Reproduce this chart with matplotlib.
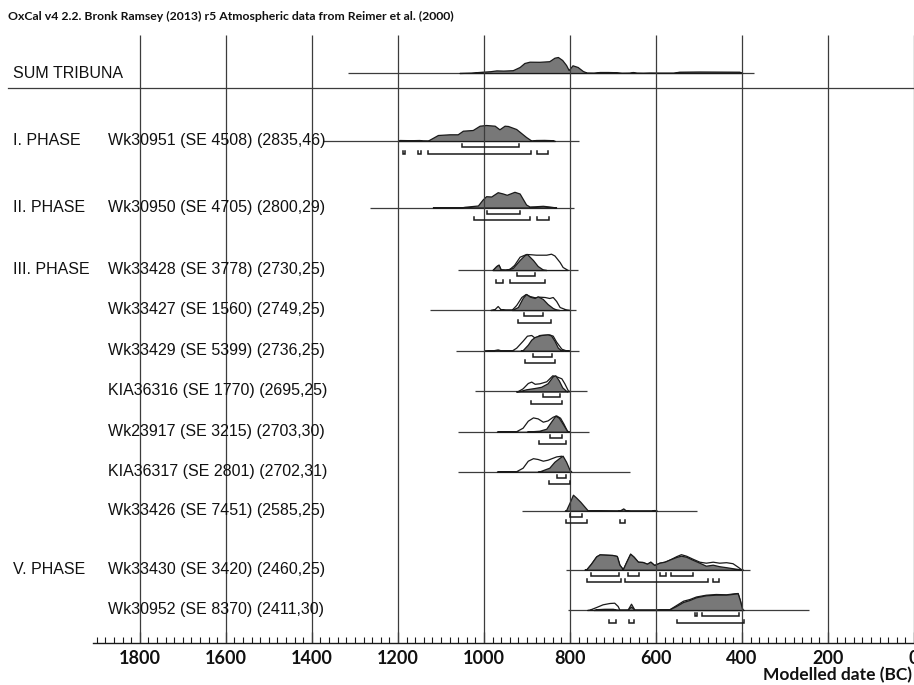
import numpy as np
import matplotlib
matplotlib.use("agg")
import matplotlib.pyplot as plt

# OxCal multiplot, values (years BC, relative probability)

title = "OxCal v4 2.2. Bronk Ramsey (2013) r5 Atmospheric data from Reimer et al. (2000)"
x_label = "Modelled date (BC)"
tick_years = [1800, 1600, 1400, 1200, 1000, 800, 600, 400, 200, 0]

# SUM TRIBUNA
sum_span = (1316, 371)
sum_yr = [1057, 1030, 1018, 1003, 985, 971, 955, 933, 917, 906, 894, 871, 848, 836, 828, 818,
          809, 803, 794, 782, 770, 761, 745, 731, 712, 693, 680, 662, 654, 645, 630, 615, 592,
          560, 546, 500, 450, 406, 399]
sum_p = [0, 0.3, 0.8, 1.3, 1.8, 2.6, 2.4, 2.8, 6, 10, 11.3, 11.2, 11.8, 15.3, 16, 13,
         8, 3, 7.7, 6, 2, 0.4, 0.3, 1, 1, 0.8, 0.2, 0.3, 1.0, 0.3, 0.2, 0.4, 0.3,
         0.3, 1.3, 1.5, 1.4, 1.3, 0]

# I. PHASE  Wk30951
wk30951_span = (1375, 780)
wk30951_yr = [1200, 1196, 1170, 1150, 1143, 1130, 1107, 1080, 1061, 1049, 1026, 1010, 995, 975,
              964, 952, 944, 925, 902, 890, 879, 860, 840, 835]
wk30951_mod = [0, 1, 0.8, 1, 0.6, 0.5, 6, 6.7, 6.7, 10.3, 11, 15.3, 16, 15.3,
               11.7, 15.3, 15, 12, 4, 0.5, 1, 1.1, 0.8, 0]
wk30951_r68 = [(1050, 919)]
wk30951_r95 = [(1188, 1183), (1153, 1146), (1130, 890), (877, 852)]

# II. PHASE  Wk30950
wk30950_span = (1264, 790)
wk30950_yr = [1119, 1100, 1050, 1045, 1014, 1003, 995, 983, 968, 956, 947, 929, 917, 902, 894,
              882, 863, 848, 832]
wk30950_mod = [0, 0.3, 0.3, 0.7, 2, 8, 11.3, 11, 15.3, 14, 12.7, 15.7, 14, 3, 1,
               1.2, 1.7, 1, 0]
wk30950_r68 = [(993, 915)]
wk30950_r95 = [(1024, 892), (877, 848)]

# III. PHASE
wk33428_span = (1061, 782)
wk33428_uyr = [980, 971, 966, 961, 950, 941, 930, 917, 902, 890, 879, 855, 844, 836, 824, 817, 805]
wk33428_unm = [0, 4, 5.3, 0.5, 0.3, 1, 5, 13.3, 16, 15.7, 15.3, 15.3, 16.3, 14.5, 8, 3, 0]
wk33428_myr = [980, 971, 966, 961, 950, 933, 917, 906, 900, 886, 875, 863, 855]
wk33428_mod = [0, 4, 5.3, 0.5, 0.2, 2, 10, 14.7, 16, 10, 4, 0.5, 0]
wk33428_r68 = [(924, 881)]
wk33428_r95 = [(973, 956), (939, 858)]

wk33427_span = (1126, 786)
wk33427_uyr = [985, 975, 968, 962, 950, 935, 925, 913, 903, 894, 882, 871, 859, 848, 840, 832,
               824, 809, 800]
wk33427_unm = [0, 1, 4, 1, 0.5, 0.5, 5, 13, 16, 14, 12.7, 13.3, 13, 12, 13, 9, 3, 0.5, 0]
wk33427_myr = [935, 921, 910, 902, 893, 882, 875, 863, 852, 840, 832, 825]
wk33427_mod = [0, 3, 12, 16, 13.3, 12, 13.7, 11, 6, 2, 0.5, 0]
wk33427_r68 = [(906, 863)]
wk33427_r95 = [(920, 845)]

wk33429_span = (1064, 780)
wk33429_uyr = [1000, 980, 968, 960, 935, 925, 910, 900, 890, 882, 871, 848, 840, 832, 820, 809, 800]
wk33429_unm = [0, 0.3, 1.3, 0.3, 0.3, 3, 10, 15, 15.7, 13, 15.7, 16.3, 15, 9, 2, 0.3, 0]
wk33429_myr = [915, 910, 898, 890, 882, 867, 852, 844, 836, 828, 820, 815]
wk33429_mod = [0, 0.5, 6, 11, 13.7, 15.7, 16.3, 15.3, 10, 3, 0.3, 0]
wk33429_r68 = [(886, 842)]
wk33429_r95 = [(905, 834)]

kia36316_span = (1020, 761)
kia36316_uyr = [925, 921, 910, 898, 890, 882, 871, 855, 841, 832, 820, 813, 805, 800]
kia36316_unm = [0, 0.3, 3, 8.3, 9.7, 7.5, 8, 10, 16, 15, 13, 8, 1, 0]
kia36316_myr = [925, 917, 902, 882, 867, 852, 840, 834, 826, 818, 809, 805]
kia36316_mod = [0, 0.3, 2, 3.3, 4.5, 8, 15, 16, 11, 4, 0.5, 0]
kia36316_r68 = [(863, 824)]
kia36316_r95 = [(890, 818)]

wk23917_span = (1061, 755)
wk23917_uyr = [970, 964, 925, 910, 898, 886, 875, 863, 852, 840, 832, 823, 815, 807, 802]
wk23917_unm = [0, 0.3, 0.5, 4, 11, 14.3, 13.3, 10, 11.3, 15, 16.3, 14, 8, 1, 0]
wk23917_myr = [900, 894, 871, 855, 844, 834, 826, 817, 807, 802]
wk23917_mod = [0, 0.3, 1, 3, 10, 16, 14, 8, 1, 0]
wk23917_r68 = [(846, 818)]
wk23917_r95 = [(873, 809)]

kia36317_span = (1061, 660)
kia36317_uyr = [970, 964, 925, 910, 898, 886, 875, 863, 852, 840, 832, 820, 813, 805, 800, 797]
kia36317_unm = [0, 0.3, 0.5, 4, 11, 13.5, 12.7, 11, 12, 14, 15.3, 16, 11, 3, 0.3, 0]
kia36317_myr = [875, 871, 848, 836, 824, 817, 809, 801, 797]
kia36317_mod = [0, 0.3, 4, 10, 14, 16, 10, 2, 0]
kia36317_r68 = [(831, 809)]
kia36317_r95 = [(848, 799)]

wk33426_span = (911, 505)
wk33426_myr = [812, 809, 801, 793, 786, 776, 766, 759, 750, 690, 683, 676, 670, 660, 610, 604, 598]
wk33426_mod = [0, 0.5, 8, 16, 13.3, 9, 4, 0.5, 0.2, 0, 0.5, 2.3, 0.3, 0, 0, 0.7, 0]
wk33426_r68 = [(799, 773)]
wk33426_r95 = [(809, 760), (683, 671)]

# V. PHASE
wk33430_span = (810, 381)
wk33430_uyr = [766, 762, 751, 739, 731, 716, 701, 691, 685, 677, 669, 660, 652, 642, 631, 621,
               613, 604, 592, 580, 569, 553, 542, 530, 515, 499, 484, 468, 453, 437, 422, 410,
               402, 398]
wk33430_unm = [0, 0.3, 6, 13.3, 15.3, 15, 14.7, 13.7, 5, 0.5, 8, 16, 13, 8, 7.7, 6,
               8, 4.7, 7, 8, 10, 13.5, 15.5, 14, 11, 8, 7, 8, 7, 7.5, 6.5, 3,
               0.5, 0]
wk33430_myr = [766, 762, 751, 739, 731, 716, 701, 691, 685, 677, 669, 660, 652, 642, 631, 621,
               613, 604, 592, 580, 569, 553, 542, 530, 515, 499, 484, 468, 453, 437, 422, 406,
               400]
wk33430_mod = [0, 0.3, 6, 13.3, 15.3, 15, 14.7, 13.7, 5, 0.5, 8, 16, 13, 8, 7.7, 6,
               8, 4.7, 7, 8, 10, 12.7, 14, 13, 10, 7, 4, 5, 3.5, 2.5, 1.5, 0.5,
               0]
wk33430_r68 = [(751, 687), (666, 640), (591, 577), (565, 513)]
wk33430_r95 = [(761, 681), (671, 478), (467, 453)]

wk30952_span = (805, 244)
wk30952_uyr = [760, 755, 739, 724, 708, 697, 689, 685, 666, 658, 650, 600, 592, 569, 553, 537,
               522, 507, 484, 461, 437, 418, 410, 405, 399, 396]
wk30952_unm = [0, 0.3, 3, 5.7, 7, 7.3, 4, 0.3, 0.3, 6.3, 0.3, 0.3, 0.7, 0.7, 5, 9.3,
               11, 13.5, 15.3, 16, 15.7, 16.7, 17, 10, 0.5, 0]
wk30952_myr = [745, 739, 720, 700, 693, 685, 666, 658, 650, 600, 592, 569, 553, 537, 522, 507,
               484, 461, 437, 418, 410, 405, 399]
wk30952_mod = [0, 0.8, 1.2, 1.2, 0.5, 0.2, 0.3, 3.5, 0.3, 0.3, 0.6, 0.6, 4, 8, 10, 12.7,
               14.7, 15.3, 15.3, 16.3, 16.7, 10, 0]
wk30952_r68 = [(509, 505), (493, 406)]
wk30952_r95 = [(710, 693), (662, 650), (552, 395)]

# rows: phase label, sample label, span, unmodelled, modelled, ranges
rows = [
    ("I. PHASE", "Wk30951 (SE 4508) (2835,46)", wk30951_span, None, (wk30951_yr, wk30951_mod), wk30951_r68, wk30951_r95),
    ("II. PHASE", "Wk30950 (SE 4705) (2800,29)", wk30950_span, None, (wk30950_yr, wk30950_mod), wk30950_r68, wk30950_r95),
    ("III. PHASE", "Wk33428 (SE 3778) (2730,25)", wk33428_span, (wk33428_uyr, wk33428_unm), (wk33428_myr, wk33428_mod), wk33428_r68, wk33428_r95),
    ("", "Wk33427 (SE 1560) (2749,25)", wk33427_span, (wk33427_uyr, wk33427_unm), (wk33427_myr, wk33427_mod), wk33427_r68, wk33427_r95),
    ("", "Wk33429 (SE 5399) (2736,25)", wk33429_span, (wk33429_uyr, wk33429_unm), (wk33429_myr, wk33429_mod), wk33429_r68, wk33429_r95),
    ("", "KIA36316 (SE 1770) (2695,25)", kia36316_span, (kia36316_uyr, kia36316_unm), (kia36316_myr, kia36316_mod), kia36316_r68, kia36316_r95),
    ("", "Wk23917 (SE 3215) (2703,30)", wk23917_span, (wk23917_uyr, wk23917_unm), (wk23917_myr, wk23917_mod), wk23917_r68, wk23917_r95),
    ("", "KIA36317 (SE 2801) (2702,31)", kia36317_span, (kia36317_uyr, kia36317_unm), (kia36317_myr, kia36317_mod), kia36317_r68, kia36317_r95),
    ("", "Wk33426 (SE 7451) (2585,25)", wk33426_span, None, (wk33426_myr, wk33426_mod), wk33426_r68, wk33426_r95),
    ("V. PHASE", "Wk33430 (SE 3420) (2460,25)", wk33430_span, (wk33430_uyr, wk33430_unm), (wk33430_myr, wk33430_mod), wk33430_r68, wk33430_r95),
    ("", "Wk30952 (SE 8370) (2411,30)", wk30952_span, (wk30952_uyr, wk30952_unm), (wk30952_myr, wk30952_mod), wk30952_r68, wk30952_r95),
]

# layout (pixel rows from the top of the figure)
W, H = 914, 685
axis_y = 643
sum_base = 73
row_base = [141, 207.5, 270, 310, 350.7, 391.3, 431.7, 471.7, 510.7, 569.7, 610]
px_per_year = 0.4305
x0_px = 140  # where 1800 BC sits

label_font = dict(family="Liberation Sans", fontsize=11.5, color="#111111")
bold_font = dict(family=["Lato", "DejaVu Sans"], fontweight="bold", color="#111111")
grid_col = "#3c3c3c"
ink = "#1a1a1a"
fill_col = "#787878"

fig = plt.figure(figsize=(W / 100, H / 100), dpi=100)
ax = fig.add_axes([0, (H - axis_y) / H, 1, axis_y / H])
x_left = 1800 + x0_px / px_per_year
x_right = 1800 - (W - x0_px) / px_per_year
ax.set_xlim(x_left, x_right)
ax.set_ylim(axis_y, 0)


def draw_curve(base, yr, p, face, zo):
    yr = np.array(yr, dtype=float)
    p = np.array(p, dtype=float)
    ax.fill_between(yr, base, base - p, facecolor=face, edgecolor=ink, linewidth=0.9, zorder=zo)


def draw_ranges(y, ranges):
    for a, b in ranges:
        ax.plot([a, a, b, b], [y - 3, y, y, y - 3], color=ink, lw=1.1, solid_joinstyle="miter", zorder=4)


# grid and separator
ax.vlines(tick_years, 35, axis_y, colors=grid_col, lw=0.9, zorder=3)
ax.axhline(88, xmin=8 / W, xmax=1, color=grid_col, lw=0.9, zorder=3)

# sum
ax.hlines(sum_base, sum_span[0], sum_span[1], colors=grid_col, lw=0.9, zorder=2)
draw_curve(sum_base, sum_yr, sum_p, fill_col, 2.5)
fig.text(13 / W, 1 - sum_base / H, "SUM TRIBUNA", ha="left", va="center", **label_font)

for base, (phase, name, span, unm, mod, r68, r95) in zip(row_base, rows):
    ax.hlines(base, span[0], span[1], colors=grid_col, lw=0.9, zorder=2)
    if unm is not None:
        draw_curve(base, unm[0], unm[1], "white", 2.2)
    draw_curve(base, mod[0], mod[1], fill_col, 2.5)
    draw_ranges(base + 6, r68)
    draw_ranges(base + 12.5, r95)
    if phase:
        fig.text(13 / W, 1 - (base - 0.5) / H, phase, ha="left", va="center", **label_font)
    fig.text(108 / W, 1 - (base - 0.5) / H, name, ha="left", va="center", zorder=5, **label_font)

# bottom axis
for s in ["top", "left", "right"]:
    ax.spines[s].set_visible(False)
ax.spines["bottom"].set_bounds(1909, x_right)
ax.spines["bottom"].set_color(ink)
ax.spines["bottom"].set_linewidth(1.0)
ax.set_yticks([])
ax.set_xticks(tick_years)
ax.set_xticklabels([str(t) for t in tick_years], fontsize=13, **bold_font)
ax.set_xticks(np.arange(1900, 0, -20), minor=True)
ax.tick_params(axis="x", which="major", direction="in", length=8, width=0.9, color=ink, pad=5)
ax.tick_params(axis="x", which="minor", direction="in", length=4, width=0.8, color=ink)
ax.patch.set_alpha(0)

fig.text(912 / W, 1 - 675 / H, x_label, ha="right", va="center", fontsize=12.5, **bold_font)
fig.text(8 / W, 1 - 16 / H, title, ha="left", va="center", fontsize=8.8, **bold_font)

fig.savefig("out.png", dpi=100, facecolor="white")
